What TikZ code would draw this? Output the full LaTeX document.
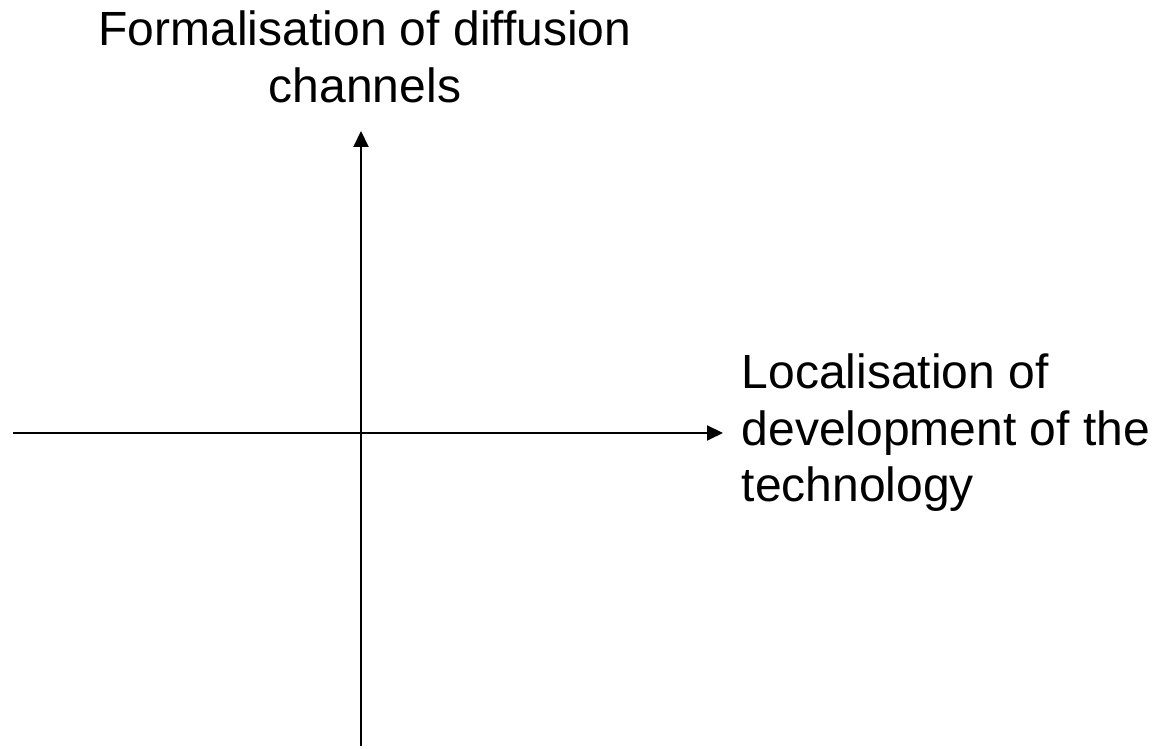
\documentclass[tikz,border=0pt]{standalone}
\usepackage{fontspec}
\setmainfont{Liberation Sans}
\usetikzlibrary{arrows.meta}
\tikzset{
  axis/.style={line width=2pt, -{Triangle[length=16pt,width=15pt]}},
  axislabel/.style={inner sep=0pt, font=\fontsize{48}{56.5}\selectfont},
}
\begin{document}
\begin{tikzpicture}[x=1pt,y=1pt]
  \useasboundingbox (0,0) rectangle (1157,749);
  % axis end points
  \coordinate (ybot) at (361,3);
  \coordinate (ytop) at (361,618);
  \coordinate (xleft) at (13,316);
  \coordinate (xright) at (723,316);
  % axes
  \draw[axis] (ybot) -- (ytop);
  \draw[axis] (xleft) -- (xright);
  % axis labels
  \node[axislabel, align=center, anchor=north] (ylab) at (365,738)
    {Formalisation of diffusion\\channels};
  \node[axislabel, align=left, anchor=north west] (xlab) at (741.5,395)
    {Localisation of\\development of the\\technology};
\end{tikzpicture}
\end{document}
